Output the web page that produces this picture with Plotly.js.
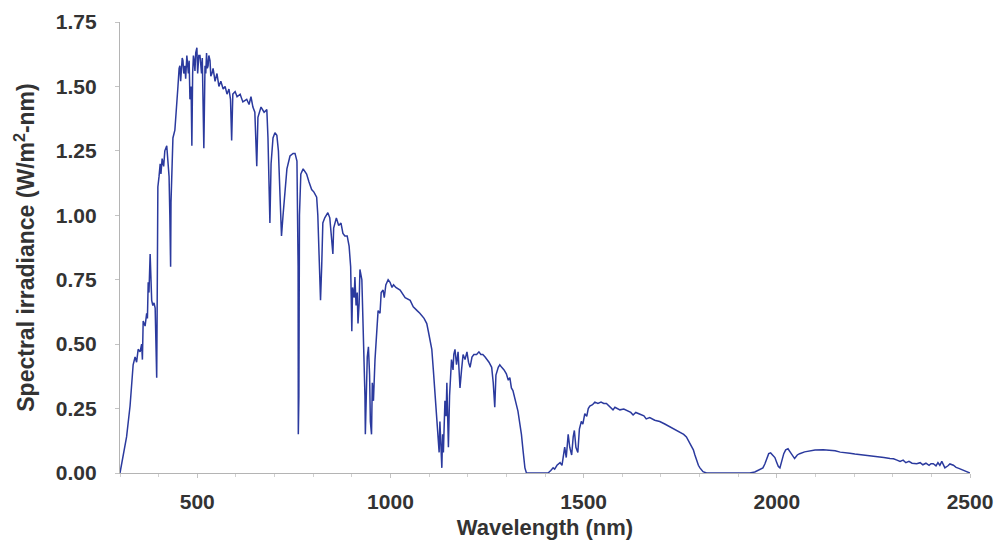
<!DOCTYPE html>
<html>
<head>
<meta charset="utf-8">
<script src="https://cdn.plot.ly/plotly-3.0.1.min.js"></script>
<style>html,body{margin:0;padding:0;background:#fff;}#chart{width:997px;height:541px;}</style>
</head>
<body>
<div id="chart"></div>
<script>
// Wavelength (nm) and spectral irradiance (W/m^2-nm)
const wavelength = [
300,317,326,330,334,339,343,347,352,356,358,360,365,369,371,373,375,378,380,382,385,388,391,393,395,396,
398,401,404,406,409,413,416,421,424,427,429,431,432,435,437,442,446,450,453,455,457,459,461,463,465,468,
470,473,475,477,479,481,484,486,488,490,492,494,496,499,501,502,504,507,509,511,513,515,517,520,522,524,
526,528,530,533,535,538,541,546,551,556,561,567,572,577,582,586,589,592,598,
603,611,618,628,634,639,644,649,654,657,665,673,680,683,686,688,691,696,701,706,710,714,718,722,727,732,
740,748,753,758,761,761.5,763,764.5,768,774,783,789,796,802,809,812,816,819,822,825,830,838,843,847,851,
853,860,866,872,877,882,888,893,897,900,902,906,908,911,914,916,919,921,926,929,932,934,935,938,940,943,
946,948,951,953,956,960,963,968,973,976,981,984,988,994,999,1004,1008,1014,1025,1038,1051,1059,1069,1076,
1087,1094,1098,1102,1107,1111,1115,1119,1122,1124,1126,1128,1131,1133,1135,1137,1141,1144,1146,1150,1153,
1155,1158,1162,1164,1167,1171,1175,1177,1180,1184,1188,1193,1198,1202,1206,1211,1216,1223,1229,1234,1239,
1245,1250,1255,1262,1266,1270,1273,1279,1283,1288,1294,1300,1305,1309,1313,1317,1322,1326,1330,1335,1339,
1343,1345,1348,1352,1408,1415,1421,1425,1431,1439,1444,1448,1451,1455,1460,1464,1469,1473,1476,1480,1485,
1489,1494,1498,1503,1508,1512,1516,1523,1529,1537,1545,1552,1559,1565,1570,1576,1581,1586,1594,1604,1614,
1622,1628,1635,1646,1656,1662,1671,1684,1697,1710,1723,1741,1749,1759,1766,1772,1778,1784,1788,1793,1797,
1801,1809,1818,1930,1943,1951,1959,1964,1969,1974,1979,1984,1990,1995,2000,2004,2008,2013,2018,2023,2029,
2033,2039,2046,2053,2059,2072,2086,2099,2120,2138,2151,2164,2177,2189,2202,2215,2232,2246,2262,2277,2293,
2302,2311,2319,2327,2334,2342,2350,2362,2371,2378,2386,2394,2399,2405,2412,2417,2422,2427,2435,2443,2448,
2457,2464,2471,2482,2492,2500
];
const irradiance = [
0,0.14,0.26,0.36,0.42,0.45,0.43,0.48,0.47,0.50,0.44,0.59,0.57,0.62,0.60,0.74,0.70,0.85,0.68,0.67,0.65,0.66,0.64,0.50,0.37,0.60,
1.11,1.15,1.20,1.16,1.22,1.19,1.25,1.27,1.22,1.15,1.00,0.80,1.05,1.25,1.30,1.33,1.40,1.50,1.57,1.58,1.52,1.56,1.61,1.60,1.55,1.58,
1.53,1.62,1.59,1.55,1.60,1.45,1.50,1.27,1.55,1.62,1.60,1.56,1.63,1.65,1.55,1.58,1.62,1.62,1.57,1.55,1.61,1.45,1.26,1.58,1.55,1.63,
1.57,1.58,1.62,1.60,1.54,1.55,1.57,1.52,1.55,1.50,1.52,1.49,1.50,1.47,1.49,1.45,1.29,1.47,1.48,
1.46,1.47,1.44,1.45,1.43,1.46,1.42,1.40,1.19,1.38,1.42,1.40,1.41,1.30,1.10,0.97,1.20,1.30,1.32,1.31,1.25,1.10,0.92,1.00,1.10,1.18,
1.23,1.24,1.24,1.21,0.80,0.15,0.30,1.00,1.16,1.18,1.16,1.13,1.10,1.09,1.07,1.00,0.85,0.67,0.80,0.97,0.99,1.01,0.99,0.92,0.85,
0.95,0.99,0.96,0.97,0.93,0.92,0.92,0.88,0.80,0.55,0.72,0.68,0.76,0.65,0.70,0.58,0.66,0.79,0.75,0.60,0.45,0.30,0.15,0.30,0.45,0.49,
0.38,0.20,0.15,0.35,0.28,0.44,0.50,0.63,0.62,0.70,0.71,0.68,0.73,0.75,0.74,0.72,0.73,0.72,0.71,0.68,0.67,0.645,0.63,0.62,
0.60,0.58,0.55,0.52,0.48,0.40,0.31,0.22,0.18,0.13,0.08,0.20,0.10,0.02,0.15,0.08,0.28,0.22,0.35,0.10,0.30,
0.36,0.44,0.40,0.46,0.48,0.42,0.47,0.40,0.33,0.40,0.46,0.44,0.47,0.43,0.41,0.45,0.46,0.46,0.47,0.46,0.46,
0.45,0.44,0.43,0.41,0.35,0.255,0.38,0.41,0.42,0.41,0.40,0.385,0.36,0.37,0.33,0.32,0.29,0.26,0.24,0.19,0.15,
0.09,0.05,0.02,0,0,0.01,0.02,0.015,0.03,0.04,0.03,0.07,0.10,0.06,0.15,0.10,0.07,0.14,0.165,0.10,0.08,
0.17,0.20,0.19,0.23,0.22,0.25,0.26,0.265,0.275,0.27,0.275,0.27,0.27,0.26,0.255,0.245,0.255,0.25,0.245,0.248,0.24,
0.235,0.225,0.235,0.228,0.222,0.21,0.215,0.205,0.20,0.19,0.18,0.165,0.16,0.15,0.14,0.125,0.11,0.09,0.07,0.045,0.03,
0.02,0.005,0,0,0.004,0.01,0.015,0.02,0.035,0.06,0.075,0.078,0.07,0.06,0.04,0.025,0.02,0.05,0.075,0.09,0.094,
0.085,0.07,0.056,0.07,0.075,0.082,0.087,0.089,0.09,0.088,0.086,0.081,0.08,0.077,0.074,0.072,0.068,0.066,0.063,0.06,0.056,
0.055,0.05,0.045,0.05,0.04,0.045,0.038,0.036,0.04,0.032,0.038,0.03,0.036,0.036,0.028,0.04,0.03,0.045,0.02,0.028,0.035,
0.03,0.022,0.018,0.01,0.004,0
];
const yTickVals = [0, 0.25, 0.5, 0.75, 1.0, 1.25, 1.5, 1.75];
const yTickText = ['0.00','0.25','0.50','0.75','1.00','1.25','1.50','1.75'];
const xTickVals = [500, 1000, 1500, 2000, 2500];

const fontFam = '"Liberation Sans", Arial, sans-serif';
const textColor = '#333333';

const trace = {
  x: wavelength, y: irradiance, type: 'scatter', mode: 'lines',
  line: {color: '#2b3a9e', width: 1.5}, hoverinfo: 'skip'
};

const layout = {
  width: 997, height: 541,
  margin: {l: 120, r: 27, t: 22, b: 68},
  paper_bgcolor: '#ffffff', plot_bgcolor: '#ffffff',
  showlegend: false,
  font: {family: fontFam, color: textColor},
  xaxis: {
    range: [300, 2500], tickvals: xTickVals,
    showgrid: false, zeroline: false,
    showline: true, linecolor: '#b4b4b4', linewidth: 1.2,
    ticks: 'outside', ticklen: 4, tickcolor: '#c4c4c4', tickwidth: 1,
    minor: {dtick: 100, ticks: 'outside', ticklen: 3, tickcolor: '#d0d0d0', showgrid: false},
    ticklabelstandoff: 6,
    tickfont: {family: fontFam, size: 21, color: textColor, weight: 'bold'},
    title: {text: '<b>Wavelength (nm)</b>', font: {family: fontFam, size: 22, color: textColor}, standoff: 7}
  },
  yaxis: {
    range: [0, 1.75], tickvals: yTickVals, ticktext: yTickText,
    showgrid: false, zeroline: false,
    showline: true, linecolor: '#b4b4b4', linewidth: 1.2,
    ticks: 'outside', ticklen: 4, tickcolor: '#c4c4c4', tickwidth: 1,
    ticklabelstandoff: 14,
    tickfont: {family: fontFam, size: 21, color: textColor, weight: 'bold'},
    title: {text: '<b>Spectral irradiance (W/m<sup>2</sup>-nm)</b>', font: {family: fontFam, size: 23, color: textColor}, standoff: 14}
  }
};

Plotly.newPlot('chart', [trace], layout, {displayModeBar: false, staticPlot: true});
</script>
</body>
</html>
